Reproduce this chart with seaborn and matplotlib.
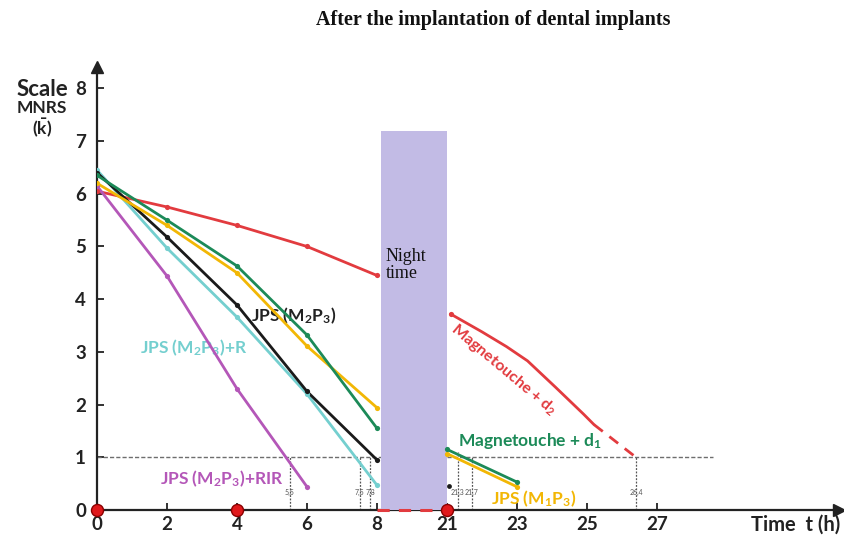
import numpy as np
import pandas as pd
import matplotlib
matplotlib.use("Agg")
import matplotlib.pyplot as plt
import seaborn as sns

# ---------------- data (time in hours, score on MNRS scale) ----------------
day_t = [0, 2, 4, 6, 8]
red_day = [6.05, 5.75, 5.40, 5.00, 4.45]
green_day = [6.35, 5.50, 4.63, 3.32, 1.55]
yellow_day = [6.20, 5.40, 4.50, 3.11, 1.94]
black_day = [6.40, 5.18, 3.89, 2.25, 0.95]
cyan_day = [6.45, 4.97, 3.66, 2.20, 0.47]
purple_t = [0, 2, 4, 6]
purple_day = [6.15, 4.44, 2.30, 0.44]

morning_t = [21, 23]
green_morning = [1.15, 0.53]
yellow_morning = [1.07, 0.44]
black_morning_t = [21.05]
black_morning = [0.46]

red_morning_t = [21.1, 22.0, 22.7, 23.3, 24.1, 24.9, 25.2]
red_morning = [3.72, 3.38, 3.10, 2.83, 2.33, 1.82, 1.62]
red_extrap_t = [25.2, 26.4]
red_extrap = [1.62, 1.00]

cross_t = [5.5, 7.5, 7.8, 21.3, 21.7, 26.4]
cross_top = [1.0, 1.0, 1.0, 1.1, 1.0, 1.0]
cross_labels = ["5,5", "7,5", "7,8", "21,3", "21,7", "26,4"]

threshold = 1.0
threshold_span = [0, 28.6]
night = [8.1, 21.0]
night_top = 7.2
marker_t = [0, 4, 21]

xtick_t = [0, 2, 4, 6, 8, 21, 23, 25, 27]
ytick_v = [0, 1, 2, 3, 4, 5, 6, 7, 8]


def pos(t):
    """Broken time axis: the night (8 h -> 21 h) is compressed to 2 units."""
    t = np.asarray(t, dtype=float)
    return np.where(t < 14, t, t - 11)


# ---------------- style ----------------
sns.set_theme(style="white")
plt.rcParams["font.family"] = ["Lato", "DejaVu Sans"]
plt.rcParams["mathtext.fontset"] = "custom"
plt.rcParams["mathtext.rm"] = "Lato"
plt.rcParams["mathtext.bf"] = "Lato:bold"
plt.rcParams["mathtext.it"] = "Lato:italic"

C_RED = "#e23b3f"
C_GREEN = "#1c8a58"
C_YEL = "#f2b705"
C_BLK = "#1a1a1a"
C_CYAN = "#74cfcf"
C_PUR = "#b457b8"
C_NIGHT = "#c2bbe5"

W, H = 844, 535
fig = plt.figure(figsize=(W / 100, H / 100), dpi=100)
ax = fig.add_axes([97 / W, 25 / H, 742 / W, 442.7 / H])
ax.set_xlim(0, 21.2)
ax.set_ylim(0, 8.4)

# night band
ax.fill_between(pos(night), [0, 0], [night_top, night_top], color=C_NIGHT,
                zorder=3, linewidth=0)
ax.text(pos([8.25])[0], 4.98, "Night\ntime", family="Liberation Serif",
        fontsize=13, va="top", ha="left", color="#111111", zorder=6,
        linespacing=1.0)

# threshold line
ax.plot(pos(threshold_span), [threshold, threshold], color="#6e6e6e",
        lw=1.0, dashes=(3, 1.5), zorder=2)

# crossing verticals + small labels
for t, top, lab in zip(cross_t, cross_top, cross_labels):
    x = pos([t])[0]
    ax.plot([x, x], [0, top], color="#555555", lw=0.9, dashes=(1.5, 1.2),
            zorder=2)
    ax.text(x, 0.33, lab, fontsize=5, color="#555555", ha="center",
            va="center", zorder=2)


def series(t, v, color, marker=True, lw=2.0):
    df = pd.DataFrame({"u": pos(t), "v": v})
    sns.lineplot(data=df, x="u", y="v", color=color, lw=lw, ax=ax,
                 sort=False, zorder=4)
    if marker:
        sns.scatterplot(data=df, x="u", y="v", color=color, s=14, ax=ax,
                        zorder=5, linewidth=0)


series(day_t, red_day, C_RED)
series(day_t, cyan_day, C_CYAN)
series(purple_t, purple_day, C_PUR)
series(day_t, black_day, C_BLK)
series(day_t, yellow_day, C_YEL)
series(day_t, green_day, C_GREEN)

series(morning_t, yellow_morning, C_YEL)
series(morning_t, green_morning, C_GREEN)
sns.scatterplot(x=pos(black_morning_t), y=black_morning, color=C_BLK, s=12,
                ax=ax, zorder=5, linewidth=0)
series(red_morning_t, red_morning, C_RED, marker=False)
sns.scatterplot(x=pos(red_morning_t[:1]), y=red_morning[:1], color=C_RED,
                s=14, ax=ax, zorder=5, linewidth=0)
df_ex = pd.DataFrame({"u": pos(red_extrap_t), "v": red_extrap})
ax.plot(df_ex["u"], df_ex["v"], color=C_RED, lw=2.0, dashes=(4, 3), zorder=4)

# red dashed along the axis during the night
ax.plot(pos([8, 21]), [0, 0], color=C_RED, lw=2.2, dashes=(4, 3), zorder=6,
        clip_on=False)
# red markers on the time axis
ax.scatter(pos(marker_t), [0] * len(marker_t), s=75, color="#e0191c",
           edgecolor="#8b0000", linewidth=1.0, zorder=8, clip_on=False)

# series labels
lab_kw = dict(fontweight="bold", zorder=3)
ax.text(pos([4.4])[0], 3.68, r"JPS (M$_\mathbf{2}$P$_\mathbf{3}$)",
        color="#222222", fontsize=12.5, va="center", **lab_kw)
ax.text(pos([1.22])[0], 3.07, r"JPS (M$_\mathbf{2}$P$_\mathbf{3}$)+R",
        color=C_CYAN, fontsize=12.5, va="center", **lab_kw)
ax.text(pos([1.8])[0], 0.60, r"JPS (M$_\mathbf{2}$P$_\mathbf{3}$)+RIR",
        color=C_PUR, fontsize=12.5, va="center", **lab_kw)
ax.text(pos([21.3])[0], 1.30, r"Magnetouche + d$_\mathbf{1}$",
        color=C_GREEN, fontsize=12.5, va="center", **lab_kw)
ax.text(pos([22.25])[0], 0.22, r"JPS (M$_\mathbf{1}$P$_\mathbf{3}$)",
        color=C_YEL, fontsize=12.5, va="center", **lab_kw)
ax.text(pos([22.63])[0], 2.66, r"Magnetouche + d$_\mathbf{2}$",
        color=C_RED, fontsize=11.5, va="center", ha="center", rotation=-40,
        **lab_kw)

# axes styling
for s in ["top", "right"]:
    ax.spines[s].set_visible(False)
for s in ["left", "bottom"]:
    ax.spines[s].set_color("#222222")
    ax.spines[s].set_linewidth(1.6)
ax.plot(1, 0, ">", color="#222222", ms=8, transform=ax.transAxes,
        clip_on=False, zorder=9)
ax.plot(0, 1, "^", color="#222222", ms=8, transform=ax.transAxes,
        clip_on=False, zorder=9)

ax.set_xticks(pos(xtick_t))
ax.set_xticklabels([str(t) for t in xtick_t])
ax.set_yticks(ytick_v)
ax.set_yticklabels([str(v) for v in ytick_v])
ax.tick_params(axis="both", direction="in", length=5, width=1.3,
               colors="#222222", labelsize=13.5)
ax.tick_params(axis="x", pad=4, bottom=True)
ax.tick_params(axis="y", pad=8, left=True)
for lbl in ax.get_xticklabels() + ax.get_yticklabels():
    lbl.set_fontweight("bold")
ax.set_xlabel("")
ax.set_ylabel("")

# axis titles and figure title
fig.text(840 / W, 1 - 525 / H, "Time  t (h)", fontsize=14.5,
         fontweight="bold", ha="right", va="center", color="#222222")
fig.text(42 / W, 1 - 89 / H, "Scale", fontsize=16, fontweight="bold",
         ha="center", va="center", color="#222222")
fig.text(42 / W, 1 - 108 / H, "MNRS", fontsize=12.5, fontweight="bold",
         ha="center", va="center", color="#222222")
fig.text(42 / W, 1 - 128 / H, r"($\mathbf{\bar{k}}$)", fontsize=12.5,
         fontweight="bold", ha="center", va="center", color="#222222")
fig.text(493 / W, 1 - 20 / H, "After the implantation of dental implants",
         family="Liberation Serif", fontsize=14.5, fontweight="bold",
         ha="center", va="center", color="#111111")

fig.savefig("out.png", dpi=100)
